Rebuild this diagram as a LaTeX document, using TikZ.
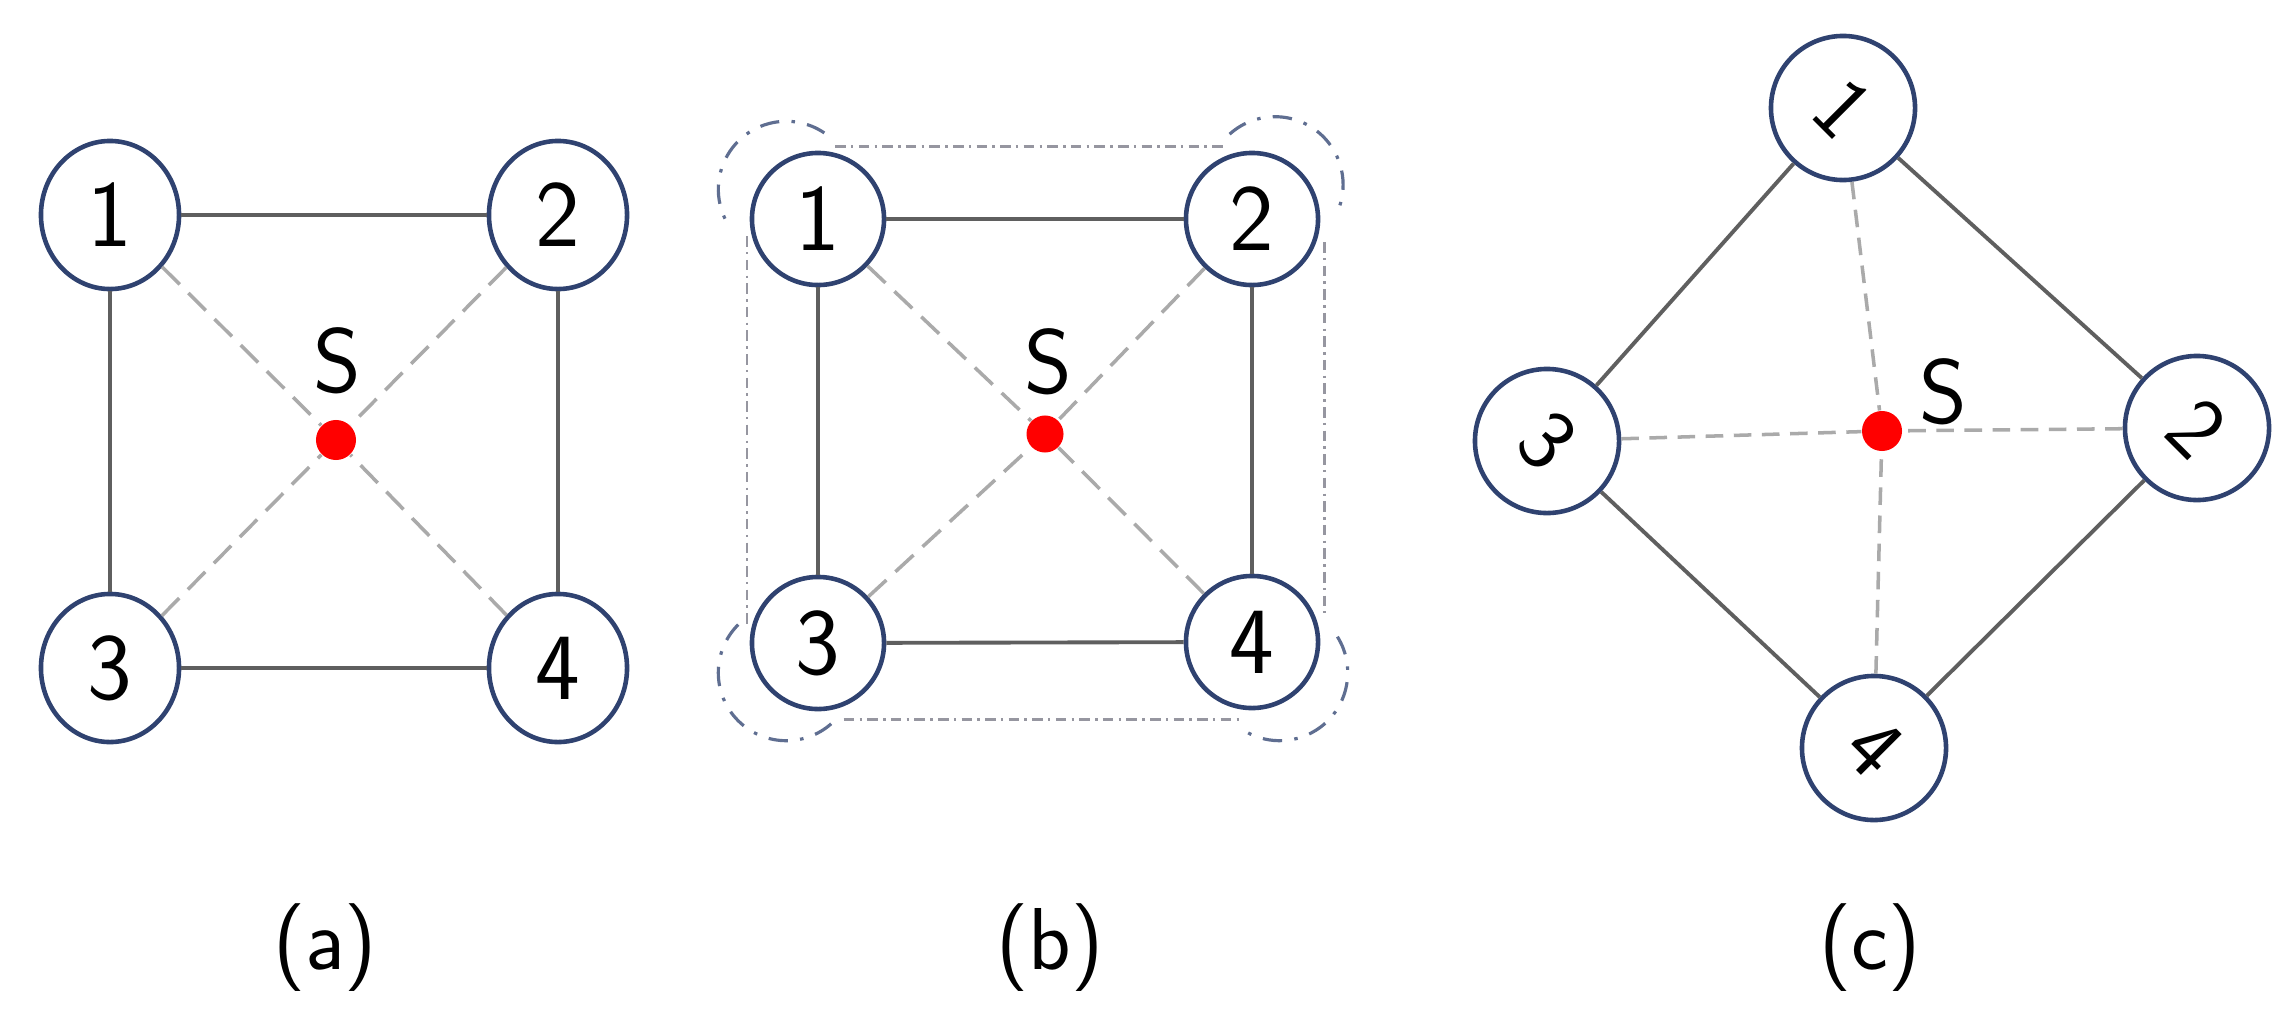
\documentclass[tikz,border=0pt]{standalone}
\usetikzlibrary{shapes.geometric}
\definecolor{navy}{RGB}{47,66,112}
\definecolor{edgegray}{RGB}{95,95,95}
\definecolor{dashgray}{RGB}{170,170,170}
\definecolor{framegray}{RGB}{150,150,160}
\definecolor{cornerblue}{RGB}{95,110,145}
\tikzset{
  vert/.style={draw=navy, line width=1.3pt, fill=white, inner sep=0pt, text=black,
    font=\fontsize{27}{30}\selectfont\sffamily},
  vell/.style={vert, ellipse, minimum width=1.38cm, minimum height=1.48cm},
  vcirc/.style={vert, circle, minimum size=1.32cm},
  vrot/.style={vert, circle, minimum size=1.44cm, rotate=-45,
    font=\fontsize{25}{28}\selectfont\sffamily},
  sdot/.style={circle, fill=red, inner sep=0pt, minimum size=0.40cm},
  slabel/.style={font=\fontsize{26}{30}\selectfont\sffamily},
  edge/.style={draw=edgegray, line width=1.1pt},
  diag/.style={draw=dashgray, line width=1pt, dash pattern=on 7pt off 3.5pt},
  diagc/.style={draw=dashgray, line width=1pt, dash pattern=on 5pt off 3pt},
  frame/.style={draw=framegray, line width=0.7pt, dash pattern=on 3pt off 1.5pt on 0.7pt off 1.5pt},
  corner/.style={draw=cornerblue, line width=0.9pt, dash pattern=on 5.5pt off 3.5pt on 1pt off 3.5pt},
  lbl/.style={font=\fontsize{25}{28}\selectfont\sffamily}
}
\begin{document}
\begin{tikzpicture}[x=0.01cm,y=0.01cm]
\useasboundingbox[fill=white] (0,0) rectangle (2291,-1015);

% ---------- (a) ----------
\node[vell] (a1) at (110,-215) {1};
\node[vell] (a2) at (558,-215) {2};
\node[vell] (a3) at (110,-668) {3};
\node[vell] (a4) at (558,-668) {4};
\node[sdot] (aS) at (336,-440) {};
\node[slabel] (aSl) at (337,-361) {S};
\draw[edge] (a1) -- (a2);
\draw[edge] (a3) -- (a4);
\draw[edge] (a1) -- (a3);
\draw[edge] (a2) -- (a4);
\draw[diag] (a1) -- (aS);
\draw[diag] (a2) -- (aS);
\draw[diag] (a3) -- (aS);
\draw[diag] (a4) -- (aS);
\node[lbl] (la) at (325,-948) {(a)};

% ---------- (b) ----------
% frame
\draw[frame] (835.2,-146.4) -- (1224.3,-146.4);
\draw[frame] (1324.6,-242.1) -- (1324.6,-613.3);
\draw[frame] (843.7,-719.6) -- (1239.5,-719.6);
\draw[frame] (747,-236.2) -- (747,-623.9);
\draw[corner] ([shift={(786.3,-189.3)}]56:68) arc[start angle=56, end angle=209, radius=68];
\draw[corner] ([shift={(1275.1,-184.7)}]132:68) arc[start angle=132, end angle=-25, radius=68];
\draw[corner] ([shift={(786.3,-672.7)}]135:68) arc[start angle=135, end angle=315, radius=68];
\draw[corner] ([shift={(1279.7,-672.7)}]32:68) arc[start angle=32, end angle=-124, radius=68];

\node[vcirc] (b1) at (818,-219) {1};
\node[vcirc] (b2) at (1252,-219) {2};
\node[vcirc] (b3) at (818,-643) {3};
\node[vcirc] (b4) at (1252,-642) {4};
\node[sdot, minimum size=0.37cm] (bS) at (1045,-434) {};
\node[slabel] (bSl) at (1048,-362) {S};
\draw[edge] (b1) -- (b2);
\draw[edge] (b3) -- (b4);
\draw[edge] (b1) -- (b3);
\draw[edge] (b2) -- (b4);
\draw[diag] (b1) -- (bS);
\draw[diag] (b2) -- (bS);
\draw[diag] (b3) -- (bS);
\draw[diag] (b4) -- (bS);
\node[lbl] (lb) at (1050,-948) {(b)};

% ---------- (c) ----------
\node[vrot] (c1) at (1843,-108) {1};
\node[vrot] (c2) at (2197,-428) {2};
\node[vrot] (c3) at (1547,-441) {3};
\node[vrot] (c4) at (1874,-748) {4};
\node[sdot] (cS) at (1882,-431) {};
\node[slabel] (cSl) at (1943,-392) {S};
\draw[edge] (c1) -- (c2);
\draw[edge] (c1) -- (c3);
\draw[edge] (c3) -- (c4);
\draw[edge] (c2) -- (c4);
\draw[diagc] (c1) -- (cS);
\draw[diagc] (c4) -- (cS);
\draw[diagc] (c3) -- (cS);
\draw[diagc] (c2) -- (cS);
\node[lbl] (lc) at (1870,-948) {(c)};
\end{tikzpicture}
\end{document}
